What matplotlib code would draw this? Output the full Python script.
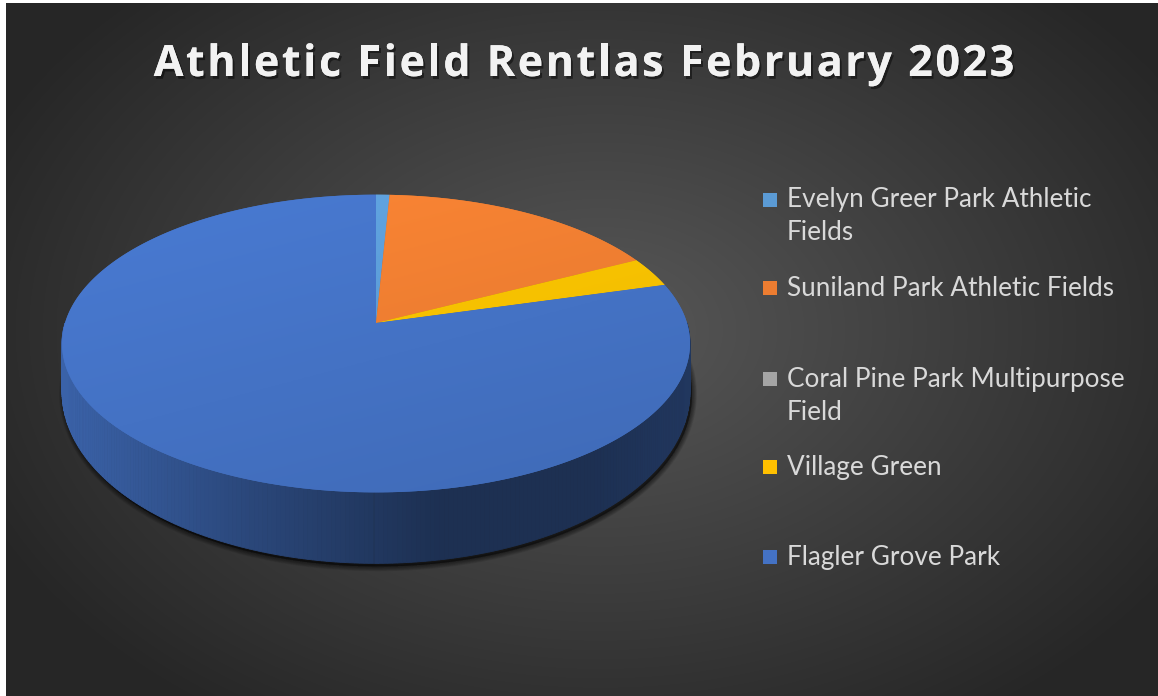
import numpy as np
import matplotlib
matplotlib.use("Agg")
import matplotlib.pyplot as plt
from matplotlib.patches import Polygon, Rectangle
from matplotlib.colors import to_rgb
from matplotlib.font_manager import FontProperties
import matplotlib.patheffects as pe

# rentals per field, February 2023
labels = ["Evelyn Greer Park Athletic\nFields",
          "Suniland Park Athletic Fields",
          "Coral Pine Park Multipurpose\nField",
          "Village Green",
          "Flagler Grove Park"]
rentals = [1, 21, 0, 4, 100]
colors = ["#5b9bd5", "#ed7d31", "#a5a5a5", "#ffc000", "#4472c4"]
title = "Athletic Field Rentlas February 2023"

W, H = 1158, 696
fig = plt.figure(figsize=(W / 100, H / 100), dpi=100, facecolor="white")
ax = fig.add_axes([0, 0, 1, 1])
ax.set_xlim(0, W)
ax.set_ylim(H, 0)
ax.axis("off")

# dark radial background
yy, xx = np.mgrid[0:H, 0:W]
r = np.sqrt(((xx - 600) / 680.0) ** 2 + ((yy - 330) / 470.0) ** 2)
t = np.clip(r, 0, 1)[..., None]
inner, outer = np.array(to_rgb("#585858")), np.array(to_rgb("#262626"))
bg = inner * (1 - t) + outer * t
ax.imshow(bg[3:, 6:], extent=(6, W, H, 3), origin="upper", zorder=0, aspect="auto")

# simple perspective projection of the pie disc
CX, CY, R, S, K = 376, 323, 311, 146, 0.138


def top_pt(th):
    u, v = np.sin(th), -np.cos(th)
    d = 1 - K * v
    return CX + R * u / d, CY + S * v / d


def bottom_pt(th):
    x, y = top_pt(th)
    v = -np.cos(th)
    return x, y + 44 + 27 * np.clip(v, 0, None)


def shade(c, f):
    return tuple(np.clip(np.array(to_rgb(c)) * f, 0, 1))


vals = np.array(rentals, dtype=float)
frac = vals / vals.sum()
edges = np.concatenate([[0], np.cumsum(frac)]) * 2 * np.pi


def slice_at(th):
    for i in range(len(vals)):
        if vals[i] > 0 and edges[i] <= th < edges[i + 1]:
            return i
    return len(vals) - 1


# soft shadow along the bottom rim
full = np.linspace(0, 2 * np.pi, 400)
rim = np.column_stack(bottom_pt(full))
for w in np.linspace(7, 1, 7):
    ax.add_patch(Polygon(rim + [2, 3], closed=True, facecolor="black",
                         edgecolor="black", linewidth=w, alpha=0.08, zorder=1,
                         joinstyle="round"))

# side wall
ths = np.linspace(np.pi / 2, 3 * np.pi / 2, 240)
xl, xr = top_pt(3 * np.pi / 2)[0], top_pt(np.pi / 2)[0]
for a, b in zip(ths[:-1], ths[1:]):
    x0, y0 = top_pt(a)
    x1, y1 = top_pt(b)
    x2, y2 = bottom_pt(b)
    x3, y3 = bottom_pt(a)
    f = ((x0 + x1) / 2 - xl) / (xr - xl)
    k = np.interp(f, [0, 0.3, 0.6, 0.85, 1], [0.86, 0.62, 0.42, 0.42, 0.48])
    c = shade(colors[slice_at((a + b) / 2)], k)
    ax.add_patch(Polygon([(x0, y0), (x1, y1), (x2, y2), (x3, y3)], closed=True,
                         facecolor=c, edgecolor=c, linewidth=0.6, zorder=2))

# top face, one gradient-filled wedge per field
gy, gx = np.mgrid[0:200, 0:200] / 199.0
gt = (0.35 * gx + 0.65 * gy)[..., None]
for i, v in enumerate(vals):
    if v <= 0:
        continue
    arc = np.linspace(edges[i], edges[i + 1], max(4, int(400 * frac[i])))
    px, py = top_pt(arc)
    pts = np.vstack([[CX, CY], np.column_stack([px, py])])
    poly = Polygon(pts, closed=True, facecolor=colors[i], edgecolor="none", zorder=3)
    ax.add_patch(poly)
    light, dark = np.array(shade(colors[i], 1.08)), np.array(shade(colors[i], 0.93))
    img = light * (1 - gt) + dark * gt
    im = ax.imshow(img, extent=(CX - R - 5, CX + R + 5, CY + 175, CY - 135),
                   origin="upper", zorder=4, aspect="auto")
    im.set_clip_path(poly)

# title, drawn letter by letter to get the wide tracking
fp = FontProperties(family="Open Sans", weight="bold", size=31)
renderer = fig.canvas.get_renderer()


def adv(s):
    # advance width in pixels, spaces measured between two letters
    if s == " ":
        return renderer.get_text_width_height_descent("a a", fp, ismath=False)[0] - \
            renderer.get_text_width_height_descent("aa", fp, ismath=False)[0]
    return renderer.get_text_width_height_descent(s, fp, ismath=False)[0]


tracking = 2.6
widths = [adv(ch) for ch in title]
total = sum(widths) + tracking * (len(title) - 1)
x = 584 - total / 2
shadow = [pe.withSimplePatchShadow(offset=(1.5, -2), shadow_rgbFace="black", alpha=0.45),
          pe.Normal()]
for ch, w in zip(title, widths):
    if ch != " ":
        ax.text(x, 76, ch, ha="left", va="baseline", fontproperties=fp,
                color="#f2f2f2", zorder=6, path_effects=shadow)
    x += w + tracking

# legend
leg_y = [200, 288, 379, 467, 557]
line_gap = 33
for lab, c, y in zip(labels, colors, leg_y):
    ax.add_patch(Rectangle((763, y - 7), 14, 14, facecolor=c, edgecolor="none", zorder=6))
    for j, line in enumerate(lab.split("\n")):
        ax.text(787, y + j * line_gap, line, ha="left", va="center", fontsize=18.8,
                family="Lato", color="#d9d9d9", zorder=6)

fig.savefig("out.png", dpi=100, facecolor="white")
